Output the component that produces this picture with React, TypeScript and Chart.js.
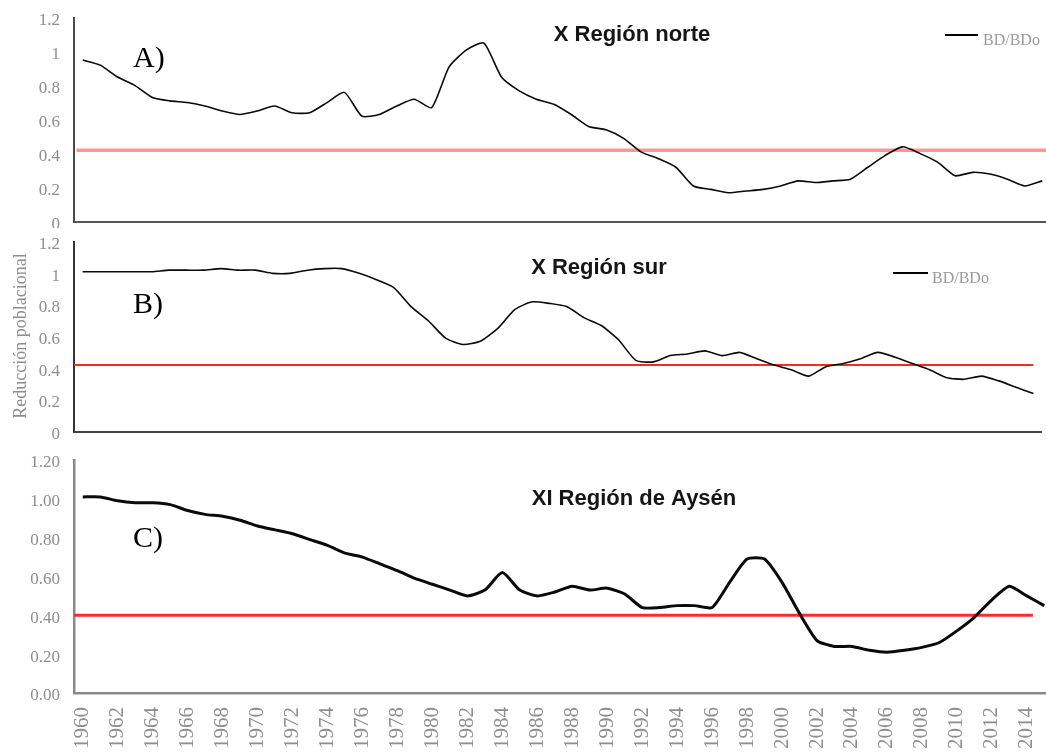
import React, { useEffect, useRef } from "react";
import { Chart, registerables } from "chart.js";
Chart.register(...registerables);

// ---------- data ----------
const years = [
  1960, 1961, 1962, 1963, 1964, 1965, 1966, 1967, 1968, 1969,
  1970, 1971, 1972, 1973, 1974, 1975, 1976, 1977, 1978, 1979,
  1980, 1981, 1982, 1983, 1984, 1985, 1986, 1987, 1988, 1989,
  1990, 1991, 1992, 1993, 1994, 1995, 1996, 1997, 1998, 1999,
  2000, 2001, 2002, 2003, 2004, 2005, 2006, 2007, 2008, 2009,
  2010, 2011, 2012, 2013, 2014, 2015,
];

// labelled years on the bottom axis
const tickYears = [
  1960, 1962, 1964, 1966, 1968, 1970, 1972, 1974, 1976, 1978,
  1980, 1982, 1984, 1986, 1988, 1990, 1992, 1994, 1996, 1998,
  2000, 2002, 2004, 2006, 2008, 2010, 2012, 2014,
];

// A) X Región norte — BD/BDo
const bdNorte = [
  0.95, 0.92, 0.85, 0.8, 0.73, 0.71, 0.7, 0.68, 0.65, 0.63,
  0.65, 0.68, 0.64, 0.64, 0.7, 0.76, 0.62, 0.63, 0.68, 0.72,
  0.67, 0.91, 1.01, 1.05, 0.85, 0.77, 0.72, 0.69, 0.63, 0.56,
  0.54, 0.49, 0.41, 0.37, 0.32, 0.21, 0.19, 0.17, 0.18, 0.19,
  0.21, 0.24, 0.23, 0.24, 0.25, 0.32, 0.39, 0.44, 0.4, 0.35,
  0.27, 0.29, 0.28, 0.25, 0.21, 0.24,
];

// B) X Región sur — BD/BDo
const bdSur = [
  1.01, 1.01, 1.01, 1.01, 1.01, 1.02, 1.02, 1.02, 1.03, 1.02,
  1.02, 1.0, 1.0, 1.02, 1.03, 1.03, 1.0, 0.96, 0.91, 0.79,
  0.7, 0.59, 0.55, 0.57, 0.65, 0.77, 0.82, 0.81, 0.79, 0.72,
  0.67, 0.58, 0.45, 0.44, 0.48, 0.49, 0.51, 0.48, 0.5, 0.46,
  0.42, 0.39, 0.35, 0.41, 0.43, 0.46, 0.5, 0.47, 0.43, 0.39,
  0.34, 0.33, 0.35, 0.32, 0.28, 0.24,
];

// C) XI Región de Aysén — BD/BDo
const bdAysen = [
  1.01, 1.01, 0.99, 0.98, 0.98, 0.97, 0.94, 0.92, 0.91, 0.89,
  0.86, 0.84, 0.82, 0.79, 0.76, 0.72, 0.7, 0.665, 0.63, 0.59,
  0.56, 0.53, 0.5, 0.53, 0.62, 0.53, 0.5, 0.52, 0.55, 0.53,
  0.54, 0.51, 0.44, 0.44, 0.45, 0.45, 0.44, 0.57, 0.69, 0.69,
  0.57, 0.41, 0.27, 0.24, 0.24, 0.22, 0.21, 0.22, 0.235, 0.26,
  0.32, 0.39, 0.48, 0.55, 0.5, 0.45,
];

// reference (threshold) lines
const umbralNorte = 0.42;
const umbralSur = 0.42;
const umbralAysen = 0.4;
const umbralSpanNorte = [1959.65, 2015.5];
const umbralSpanSur = [1959.5, 2015];
const umbralSpanAysen = [1959.5, 2014.35];

// x domains (category half-widths around first/last year)
const domainNorte = [1959.5, 2015.5];
const domainSur = [1959.5, 2015.5];
const domainAysen = [1959.5, 2015.5];

const yMin = 0;
const yMax = 1.2;
const yStep = 0.2;

const titles = ["X Región norte", "X Región sur", "XI Región de Aysén"];
const panelLabels = ["A)", "B)", "C)"];
const legendLabel = "BD/BDo";
const yAxisTitle = "Reducción poblacional";

// ---------- styling ----------
const SERIF = "'Liberation Serif', 'Times New Roman', Times, serif";
const SANS = "'Liberation Sans', Arial, Helvetica, sans-serif";
const TICK_GRAY = "#8e8e8e";

type Txt = {
  text: string;
  x: number;
  y: number;
  font: string;
  color: string;
  align?: CanvasTextAlign;
  baseline?: CanvasTextBaseline;
  rotate?: number;
};
type Leg = { x1: number; x2: number; y: number; tx: number; ty: number };

function textPlugin(texts: Txt[], legend?: Leg) {
  return {
    id: "panelText",
    afterDraw(chart: any) {
      const ctx: CanvasRenderingContext2D = chart.ctx;
      ctx.save();
      for (const t of texts) {
        ctx.save();
        ctx.font = t.font;
        ctx.fillStyle = t.color;
        ctx.textAlign = t.align || "left";
        ctx.textBaseline = t.baseline || "alphabetic";
        ctx.translate(t.x, t.y);
        if (t.rotate) ctx.rotate(t.rotate);
        ctx.fillText(t.text, 0, 0);
        ctx.restore();
      }
      if (legend) {
        ctx.strokeStyle = "#000";
        ctx.lineWidth = 2;
        ctx.beginPath();
        ctx.moveTo(legend.x1, legend.y);
        ctx.lineTo(legend.x2, legend.y);
        ctx.stroke();
        ctx.font = `16px ${SERIF}`;
        ctx.fillStyle = "#9a9a9a";
        ctx.textAlign = "left";
        ctx.textBaseline = "alphabetic";
        ctx.fillText(legendLabel, legend.tx, legend.ty);
      }
      ctx.restore();
    },
  };
}

type PanelOpts = {
  values: number[];
  threshold: number;
  span: number[];
  domain: number[];
  padTop: number;
  padBottom: number;
  xHeight: number;
  showX: boolean;
  lineWidth: number;
  redColor: string;
  redWidth: number;
  yAxisColor: string;
  xAxisColor: string;
  axisWidth: number;
  yFmt: (v: number) => string;
  yFont: number;
  texts: Txt[];
  legend?: Leg;
};

function buildConfig(p: PanelOpts): any {
  return {
    type: "line",
    data: {
      datasets: [
        {
          label: legendLabel,
          data: years.map((yr, i) => ({ x: yr, y: p.values[i] })),
          borderColor: "#0a0a0a",
          borderWidth: p.lineWidth,
          pointRadius: 0,
          tension: 0.2,
          fill: false,
          order: 0,
        },
        {
          label: "umbral",
          data: p.span.map((x) => ({ x, y: p.threshold })),
          borderColor: p.redColor,
          borderWidth: p.redWidth,
          pointRadius: 0,
          fill: false,
          order: 1,
        },
      ],
    },
    options: {
      animation: false,
      responsive: false,
      events: [],
      layout: { padding: { top: p.padTop, bottom: p.padBottom, left: 0, right: 0 } },
      plugins: { legend: { display: false }, tooltip: { enabled: false }, title: { display: false } },
      scales: {
        x: {
          type: "linear",
          min: p.domain[0],
          max: p.domain[1],
          grid: { display: false, drawTicks: false },
          border: { display: true, color: p.xAxisColor, width: p.axisWidth },
          afterBuildTicks: (s: any) => {
            s.ticks = tickYears.map((v) => ({ value: v }));
          },
          ticks: {
            display: p.showX,
            autoSkip: false,
            minRotation: 90,
            maxRotation: 90,
            padding: 14,
            color: TICK_GRAY,
            font: { family: SERIF, size: 21 },
            callback: (v: number) => String(v),
          },
          afterFit: (s: any) => {
            s.height = p.xHeight;
            s.paddingLeft = 0;
            s.paddingRight = 0;
          },
        },
        y: {
          min: yMin,
          max: yMax,
          grid: { display: false, drawTicks: false },
          border: { display: true, color: p.yAxisColor, width: p.axisWidth },
          ticks: {
            stepSize: yStep,
            padding: 14,
            labelOffset: 3,
            color: TICK_GRAY,
            font: { family: SERIF, size: p.yFont },
            callback: (v: number) => p.yFmt(v),
          },
          afterFit: (s: any) => {
            s.width = 74;
            s.paddingTop = 0;
            s.paddingBottom = 0;
          },
        },
      },
    },
    plugins: [textPlugin(p.texts, p.legend)],
  };
}

const fmtShort = (v: number) => String(Number(v.toFixed(1)));
const fmtTwo = (v: number) => v.toFixed(2);

const titleFont = `bold 22px ${SANS}`;
const labelFont = `30px ${SERIF}`;

export default function App() {
  const refA = useRef<HTMLCanvasElement | null>(null);
  const refB = useRef<HTMLCanvasElement | null>(null);
  const refC = useRef<HTMLCanvasElement | null>(null);

  useEffect(() => {
    const charts: Chart[] = [];
    if (refA.current) {
      charts.push(
        new Chart(
          refA.current,
          buildConfig({
            values: bdNorte,
            threshold: umbralNorte,
            span: umbralSpanNorte,
            domain: domainNorte,
            padTop: 17.5,
            padBottom: 6.3,
            xHeight: 0,
            showX: false,
            lineWidth: 1.6,
            redColor: "rgba(255, 130, 130, 0.85)",
            redWidth: 3.5,
            yAxisColor: "#4a4a4a",
            xAxisColor: "#555555",
            axisWidth: 2,
            yFmt: fmtShort,
            yFont: 17,
            texts: [
              { text: titles[0], x: 632, y: 41, font: titleFont, color: "#151515", align: "center" },
              { text: panelLabels[0], x: 133, y: 67, font: labelFont, color: "#000" },
            ],
            legend: { x1: 945, x2: 978, y: 35, tx: 983, ty: 45 },
          })
        )
      );
    }
    if (refB.current) {
      charts.push(
        new Chart(
          refB.current,
          buildConfig({
            values: bdSur,
            threshold: umbralSur,
            span: umbralSpanSur,
            domain: domainSur,
            padTop: 13.7,
            padBottom: 18.5,
            xHeight: 0,
            showX: false,
            lineWidth: 1.6,
            redColor: "#ff2a1a",
            redWidth: 2,
            yAxisColor: "#333333",
            xAxisColor: "#444444",
            axisWidth: 2,
            yFmt: fmtShort,
            yFont: 17,
            texts: [
              { text: titles[1], x: 599, y: 46, font: titleFont, color: "#151515", align: "center" },
              { text: panelLabels[1], x: 133, y: 85, font: labelFont, color: "#000" },
              {
                text: yAxisTitle,
                x: 21,
                y: 108,
                font: `18px ${SERIF}`,
                color: "#8e8e8e",
                align: "center",
                baseline: "middle",
                rotate: -Math.PI / 2,
              },
            ],
            legend: { x1: 893, x2: 928, y: 45, tx: 932, ty: 55 },
          })
        )
      );
    }
    if (refC.current) {
      charts.push(
        new Chart(
          refC.current,
          buildConfig({
            values: bdAysen,
            threshold: umbralAysen,
            span: umbralSpanAysen,
            domain: domainAysen,
            padTop: 10,
            padBottom: 0,
            xHeight: 60,
            showX: true,
            lineWidth: 3,
            redColor: "#ff2a2a",
            redWidth: 3,
            yAxisColor: "#8a8a8a",
            xAxisColor: "#8a8a8a",
            axisWidth: 2.5,
            yFmt: fmtTwo,
            yFont: 17,
            texts: [
              { text: titles[2], x: 634, y: 55, font: titleFont, color: "#151515", align: "center" },
              { text: panelLabels[2], x: 133, y: 97, font: labelFont, color: "#000" },
            ],
          })
        )
      );
    }
    return () => {
      charts.forEach((c) => c.destroy());
    };
  }, []);

  const wrap: React.CSSProperties = {
    position: "absolute",
    left: 0,
    top: 0,
    width: 1046,
    height: 753,
    overflow: "hidden",
    background: "#fff",
  };
  const cv = (top: number, w: number, h: number): React.CSSProperties => ({
    position: "absolute",
    left: 0,
    top,
    width: w,
    height: h,
    display: "block",
  });

  return (
    <div style={wrap}>
      <canvas ref={refA} width={1051} height={228} style={cv(0, 1051, 228)} />
      <canvas ref={refB} width={1042} height={222} style={cv(228, 1042, 222)} />
      <canvas ref={refC} width={1053} height={303} style={cv(450, 1053, 303)} />
    </div>
  );
}
